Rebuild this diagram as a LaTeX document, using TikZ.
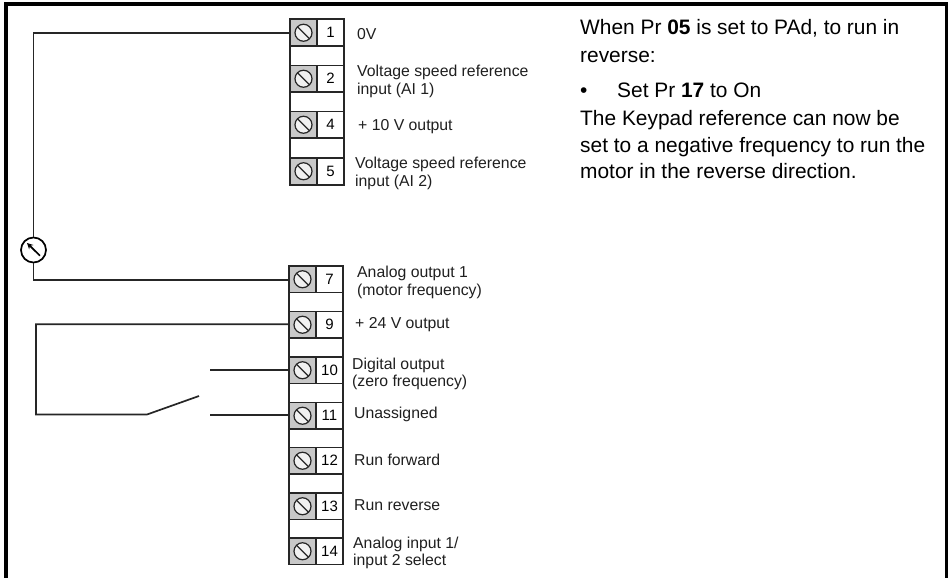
\documentclass[tikz,border=0pt]{standalone}
\usepackage{fontspec}
\setmainfont{Liberation Sans}
\usetikzlibrary{arrows.meta,calc}
\definecolor{wire}{HTML}{262626}
\definecolor{screwgrey}{HTML}{C8C8C8}
\tikzset{
  wireline/.style={draw=wire,line width=1.7pt},
  blockbox/.style={draw=wire,line width=1.9pt,fill=white,minimum width=54pt,inner sep=0pt,outer sep=0pt},
  screwcell/.style={draw=wire,line width=1.4pt,fill=screwgrey,minimum width=27pt,minimum height=26.5pt,inner sep=0pt,outer sep=0pt},
  numcell/.style={draw=wire,line width=1.4pt,fill=white,minimum width=27pt,minimum height=26.5pt,inner sep=0pt,outer sep=0pt,font=\fontsize{15}{15}\selectfont},
  screwhead/.style={draw=wire,line width=1.2pt,circle,minimum size=17pt,inner sep=0pt,outer sep=0pt,fill=white!75!screwgrey},
  lab/.style={anchor=base west,inner sep=0pt,align=left,font=\fontsize{15.8}{18}\selectfont,text=black!88},
  note/.style={anchor=base west,inner sep=0pt,font=\fontsize{20.9}{27}\selectfont,text=black},
  meter/.style={draw=black,line width=1.7pt,circle,minimum size=25pt,inner sep=0pt,fill=white}
}
% #1 name, #2 printed number, #3 left x, #4 top y
\newcommand{\terminal}[4]{%
  \node[screwcell,anchor=north west] (s#1) at (#3,#4) {};
  \node[numcell,anchor=north west] (n#1) at ($(#3,#4)+(27,0)$) {#2};
  \node[screwhead] (h#1) at (s#1.center) {};
  \draw[draw=wire,line width=1.4pt] (h#1.135) -- (h#1.-45);
}
\begin{document}
\begin{tikzpicture}[x=1pt,y=-1pt]
\useasboundingbox (0,0) rectangle (948,578);
% page frame
\fill[black] (4,2) rectangle (948,6);
\fill[black] (4,2) rectangle (8,578);
\fill[black] (945,2) rectangle (948,578);
% terminal blocks
\node[blockbox,minimum height=166pt,anchor=north west] (upper) at (290,19) {};
\node[blockbox,minimum height=299pt,anchor=north west] (lower) at (289,265.5) {};
\terminal{a}{1}{290}{19.5}
\terminal{b}{2}{290}{65.5}
\terminal{c}{4}{290}{111.5}
\terminal{d}{5}{290}{158}
\terminal{e}{7}{289}{266}
\terminal{f}{9}{289}{311.5}
\terminal{g}{10}{289}{357}
\terminal{i}{11}{289}{402.5}
\terminal{j}{12}{289}{447.5}
\terminal{k}{13}{289}{493}
\terminal{l}{14}{289}{538}
% meter
\node[meter] (mtr) at (33.5,250) {};
\coordinate (mtail) at (40,255.7);
\coordinate (mtip) at (27,243);
\draw[line width=1.7pt,-{Stealth[length=6pt,width=6pt]}] (mtail) -- (mtip);
% wiring
\coordinate (c1) at (33.5,33);
\coordinate (c2) at (33.5,280);
\draw[wireline] (mtr.north) -- (c1) -- (sa.west |- c1);
\draw[wireline] (mtr.south) -- (c2) -- (se.west |- c2);
% switch loop
\coordinate (lt) at (36,324.3);
\coordinate (lb) at (36,414.5);
\coordinate (hinge) at (147,414.5);
\coordinate (blade) at (199,396);
\coordinate (con1) at (210,370);
\coordinate (con2) at (210,415);
\draw[wireline] (sf.west |- lt) -- (lt) -- (lb) -- (hinge) -- (blade);
\draw[wireline] (con1) -- (sg.west |- con1);
\draw[wireline] (con2) -- (si.west |- con2);
% labels
\node[lab] (la) at (357,39.5) {0V};
\node[lab] (lb1) at (357,77) {Voltage speed reference};
\node[lab] (lb2) at (357,95) {input (AI 1)};
\node[lab] (lc) at (358,130) {+ 10 V output};
\node[lab] (ld1) at (355,168.5) {Voltage speed reference};
\node[lab] (ld2) at (355,186.5) {input (AI 2)};
\node[lab] (le1) at (357,277) {Analog output 1};
\node[lab] (le2) at (357,295) {(motor frequency)};
\node[lab] (lf) at (355,328) {+ 24 V output};
\node[lab] (lg1) at (352,369) {Digital output};
\node[lab] (lg2) at (352,386) {(zero frequency)};
\node[lab] (li) at (354,418) {Unassigned};
\node[lab] (lj) at (354,465) {Run forward};
\node[lab] (lk) at (354,510) {Run reverse};
\node[lab] (ll1) at (353,548) {Analog input 1/};
\node[lab] (ll2) at (353,565) {input 2 select};
% notes
\node[note] (t1) at (580,35) {When Pr \textbf{05} is set to PAd, to run in};
\node[note] (t2) at (580,63) {reverse:};
\node[note] (t3) at (580,98) {•};
\node[note] (t3b) at (617,98) {Set Pr \textbf{17} to On};
\node[note] (t4) at (580,125) {The Keypad reference can now be};
\node[note] (t5) at (580,152) {set to a negative frequency to run the};
\node[note] (t6) at (580,178) {motor in the reverse direction.};
\end{tikzpicture}
\end{document}
